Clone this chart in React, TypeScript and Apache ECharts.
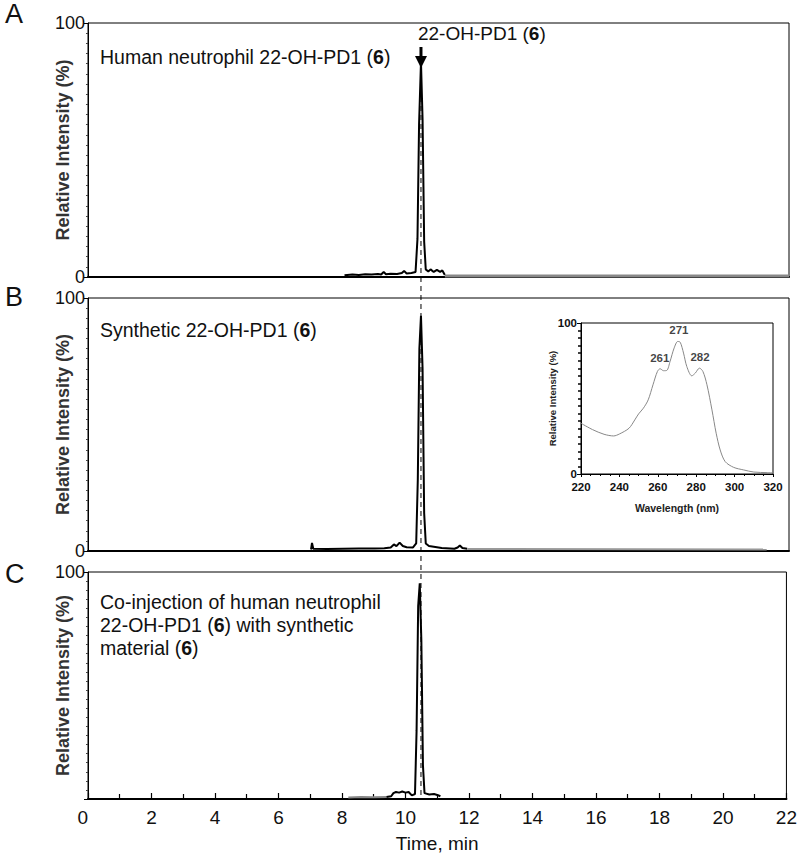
import React, { useEffect, useRef } from 'react';
import * as echarts from 'echarts';

const FONT = '"Liberation Sans", Arial, sans-serif';

// Retention time axis (min)
const timeMin = 0;
const timeMax = 22;
const timeStep = 2;
const peakTime = 10.45;

// Panel A – human neutrophil 22-OH-PD1
const panelA_trace: number[][] = [
  [8.05, 0.7], [8.3, 1.0], [8.5, 0.8], [8.7, 1.1], [8.9, 1.0], [9.1, 1.2], [9.2, 1.0], [9.28, 2.0],
  [9.35, 1.1], [9.5, 1.3], [9.7, 1.2], [9.85, 1.6], [9.92, 2.4], [10.0, 1.4], [10.15, 1.6], [10.28, 2.0],
  [10.34, 15], [10.39, 60], [10.45, 84.6], [10.5, 62], [10.55, 14], [10.6, 3.0], [10.68, 2.2],
  [10.75, 3.0], [10.85, 2.0], [10.95, 2.8], [11.05, 2.0], [11.12, 2.6], [11.2, 0.8]
];
const panelA_tail: number[][] = [[11.2, 0.4], [22, 0.4]];

// Panel B – synthetic 22-OH-PD1
const panelB_trace: number[][] = [
  [7.0, 0.6], [7.03, 3.2], [7.07, 0.9], [7.5, 0.8], [8.0, 0.9], [8.5, 1.0], [9.0, 1.0], [9.3, 1.1],
  [9.5, 1.4], [9.6, 2.6], [9.68, 1.9], [9.78, 3.3], [9.88, 2.0], [10.0, 1.5], [10.2, 1.4], [10.3, 3.0],
  [10.35, 28], [10.4, 80], [10.45, 93], [10.5, 72], [10.55, 15], [10.6, 3.0], [10.7, 2.0],
  [10.9, 1.6], [11.1, 1.2], [11.5, 0.9], [11.6, 1.4], [11.67, 2.2], [11.75, 1.2], [11.9, 0.9]
];
const panelB_tail: number[][] = [[11.9, 0.8], [21.3, 0.6]];

// Panel C – co-injection
const panelC_lead: number[][] = [[8.2, 0.7], [8.6, 0.9], [9.0, 0.8], [9.4, 0.9]];
const panelC_trace: number[][] = [
  [9.4, 0.9], [9.55, 1.2], [9.62, 2.6], [9.7, 3.1], [9.8, 2.8], [9.9, 3.3], [10.0, 2.8], [10.1, 3.1],
  [10.2, 1.6], [10.3, 2.2], [10.35, 30], [10.4, 85], [10.45, 95], [10.5, 70], [10.55, 15], [10.6, 2.6],
  [10.75, 2.0], [10.9, 2.2], [11.0, 1.8], [11.1, 1.2]
];

// Inset UV spectrum
const wavelengths = [220, 226, 232, 237, 240, 245, 248, 250, 252.5, 255, 257.5, 259.8, 261.2, 263, 264.7,
  266.4, 268.5, 270.4, 271.7, 273.4, 275.1, 277.7, 279.5, 281.7, 283.5, 285.6, 288.2, 290.4, 292.5, 295.1,
  299.5, 304.7, 310, 317, 320];
const absorbance = [33.6, 29.4, 26.3, 25.2, 26.5, 30.3, 35.8, 39.8, 43.6, 49.1, 59.1, 67.9, 69.7, 68.4, 68.6,
  74.6, 83.4, 87.8, 87.2, 80.1, 71.2, 65.0, 66.8, 70.1, 67.9, 59.1, 42.5, 27.0, 15.9, 8.2,
  4.4, 2.7, 1.3, 0.9, 0.7];
const peakWavelengths = [261, 271, 282];
const peakValues = [69.7, 87.8, 70.1];

const grids = [
  { left: 88, top: 23, right: 11, height: 254 },
  { left: 88, top: 298, right: 11, height: 253 },
  { left: 88, top: 572, right: 11, height: 230 },
  { left: 581, top: 323, width: 192, height: 151 }
];

function mainX(i: number, labels: boolean) {
  return {
    type: 'value', gridIndex: i, min: timeMin, max: timeMax, interval: timeStep,
    axisLine: { show: true, onZero: false, lineStyle: { color: '#000', width: 2 } },
    axisTick: { show: labels, inside: true, length: 6, lineStyle: { color: '#000', width: 1.2 } },
    minorTick: { show: labels, splitNumber: 2, length: 5, lineStyle: { color: '#000', width: 1.2 } },
    splitLine: { show: false },
    axisLabel: {
      show: labels, fontSize: 19, color: '#111', fontFamily: FONT, margin: 9,
      alignMinLabel: 'right'
    },
    name: labels ? 'Time, min' : '',
    nameLocation: 'middle', nameGap: 35, nameMoveOverlap: false,
    nameTextStyle: { fontSize: 19, color: '#111', fontFamily: FONT }
  };
}

function mainY(i: number, showZero: boolean) {
  return {
    type: 'value', gridIndex: i, min: 0, max: 100, interval: 100,
    axisLine: { show: true, lineStyle: { color: '#000', width: 1 } },
    axisTick: { show: true, inside: false, length: 4, lineStyle: { color: '#000' } },
    minorTick: { show: true, splitNumber: 25, length: 2, lineStyle: { color: '#444' } },
    splitLine: { show: false },
    axisLabel: {
      fontSize: 18, color: '#111', fontFamily: FONT, margin: 3,
      formatter: (v: number) => (v === 0 && !showZero ? '' : String(v))
    },
    name: 'Relative Intensity (%)', nameLocation: 'middle', nameGap: 16, nameMoveOverlap: false,
    nameTextStyle: { fontSize: 18, fontWeight: 'bold', color: '#333', fontFamily: FONT }
  };
}

function line(xi: number, data: number[][], color: string, width: number) {
  return {
    type: 'line', xAxisIndex: xi, yAxisIndex: xi, data, symbol: 'none', showSymbol: false,
    lineStyle: { color, width }, z: 3
  };
}

export default function App() {
  const ref = useRef<HTMLDivElement>(null);
  useEffect(() => {
    document.body.style.margin = '0';
    const chart = echarts.init(ref.current!, null, { renderer: 'svg' });
    const option: any = {
      animation: false,
      backgroundColor: '#fff',
      textStyle: { fontFamily: FONT },
      grid: grids.map((g) => ({ ...g, show: true, borderColor: '#000', borderWidth: 1, backgroundColor: 'transparent' })),
      xAxis: [
        mainX(0, false), mainX(1, false), mainX(2, true),
        {
          type: 'value', gridIndex: 3, min: 220, max: 320, interval: 20,
          axisLine: { lineStyle: { color: '#000', width: 1 } },
          axisTick: { show: true, inside: false, length: 3, lineStyle: { color: '#000' } },
          minorTick: { show: true, splitNumber: 4, length: 2, lineStyle: { color: '#000' } },
          splitLine: { show: false },
          axisLabel: { fontSize: 11.5, fontWeight: 'bold', color: '#111', margin: 7, fontFamily: FONT },
          name: 'Wavelength (nm)', nameLocation: 'middle', nameGap: 28, nameMoveOverlap: false,
          nameTextStyle: { fontSize: 10.5, fontWeight: 'bold', color: '#222', fontFamily: FONT }
        }
      ],
      yAxis: [
        mainY(0, true), mainY(1, true), mainY(2, false),
        {
          type: 'value', gridIndex: 3, min: 0, max: 100, interval: 100,
          axisLine: { lineStyle: { color: '#000', width: 1 } },
          axisTick: { show: true, inside: false, length: 4, lineStyle: { color: '#000' } },
          minorTick: { show: true, splitNumber: 20, length: 3, lineStyle: { color: '#000', width: 1.5 } },
          splitLine: { show: false },
          axisLabel: { fontSize: 11.5, fontWeight: 'bold', color: '#111', margin: 4, fontFamily: FONT },
          name: 'Relative Intensity (%)', nameLocation: 'middle', nameGap: 24, nameMoveOverlap: false,
          nameTextStyle: { fontSize: 9.5, fontWeight: 'bold', color: '#222', fontFamily: FONT }
        }
      ],
      series: [
        line(0, panelA_trace, '#000', 2),
        line(0, panelA_tail, '#888', 3),
        line(1, panelB_trace, '#000', 2),
        line(1, panelB_tail, '#999', 2),
        line(2, panelC_lead, '#888', 2),
        line(2, panelC_trace, '#000', 2),
        {
          type: 'line', xAxisIndex: 3, yAxisIndex: 3, symbol: 'none', smooth: 0.3,
          data: wavelengths.map((w, k) => [w, absorbance[k]]),
          lineStyle: { color: '#888', width: 1 }
        },
        {
          type: 'scatter', xAxisIndex: 3, yAxisIndex: 3, symbolSize: 0,
          data: peakWavelengths.map((w, k) => [w, peakValues[k]]),
          label: {
            show: true, position: 'top', distance: 5, fontSize: 11.5, fontWeight: 'bold', color: '#111',
            fontFamily: FONT, formatter: (p: any) => String(p.value[0])
          }
        }
      ]
    };
    chart.setOption(option);

    const pTop = chart.convertToPixel({ gridIndex: 0 }, [peakTime, 100]) as number[];
    const pBottom = chart.convertToPixel({ gridIndex: 2 }, [peakTime, 0]) as number[];
    const px = pTop[0];
    const txt = (x: number, y: number, text: string, size: number, extra: any = {}) => ({
      type: 'text', x, y, z: 10,
      style: {
        text, fontSize: size, fontFamily: FONT, fill: '#111', verticalAlign: 'middle',
        rich: { b: { fontWeight: 'bold', fontSize: size, fontFamily: FONT, fill: '#111' } },
        ...extra
      }
    });
    chart.setOption({
      graphic: [
        txt(5, 14, 'A', 27),
        txt(5, 297, 'B', 27),
        txt(5, 574, 'C', 27),
        txt(100, 57, 'Human neutrophil 22-OH-PD1 ({b|6})', 19.5),
        txt(100, 330, 'Synthetic 22-OH-PD1 ({b|6})', 19.5),
        txt(100, 590, 'Co-injection of human neutrophil\n22-OH-PD1 ({b|6}) with synthetic\nmaterial ({b|6})', 19.5,
          { verticalAlign: 'top', lineHeight: 23 }),
        txt(px - 3, 33, '22-OH-PD1 ({b|6})', 19),
        {
          type: 'line', z: 9,
          shape: { x1: px, y1: 70, x2: px, y2: pBottom[1] },
          style: { stroke: '#000', lineWidth: 1, lineDash: [5, 4] }
        },
        {
          type: 'line', z: 10,
          shape: { x1: px, y1: 47, x2: px, y2: 58 },
          style: { stroke: '#000', lineWidth: 3 }
        },
        {
          type: 'polygon', z: 10,
          shape: { points: [[px - 6, 56], [px + 6, 56], [px, 68]] },
          style: { fill: '#000' }
        }
      ]
    });
    return () => chart.dispose();
  }, []);
  return <div ref={ref} style={{ width: 800, height: 854 }} />;
}
